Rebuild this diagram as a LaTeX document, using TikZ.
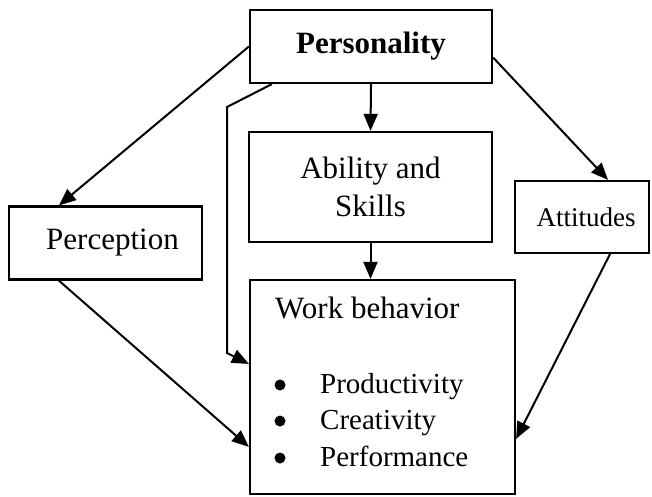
\documentclass[tikz,border=0pt]{standalone}
\usepackage{fontspec}
\setmainfont{Liberation Serif}
\usetikzlibrary{arrows.meta,calc}
\begin{document}
\begin{tikzpicture}[x=1pt,y=-1pt,
  box/.style={draw,line width=2.2pt,inner sep=0pt},
  conn/.style={line width=2pt,-{Triangle[length=17pt,width=14pt]}},
  big/.style={font=\fontsize{31}{38}\selectfont},
  mid/.style={font=\fontsize{27}{32}\selectfont},
  dot/.style={circle,fill,inner sep=0pt,minimum size=11pt},
  item/.style={font=\fontsize{29}{34}\selectfont,anchor=base west,inner sep=0pt}]
\useasboundingbox (0,0) rectangle (652,496);
\node[box,minimum width=242pt,minimum height=73pt,font=\fontsize{31}{36}\selectfont\bfseries] (pers) at (371,46.5) {Personality};
\node[box,minimum width=243pt,minimum height=110pt,big,align=center] (abil) at (370.5,187) {Ability and\\Skills};
\node[box,minimum width=193pt,minimum height=73pt,big] (perc) at (105.5,243) {\hspace{14pt}Perception};
\node[box,minimum width=134pt,minimum height=72pt,mid] (att) at (582,217) {\hspace{8pt}Attitudes};
\node[box,minimum width=265pt,minimum height=214pt] (work) at (382.5,387) {};
\node[big,anchor=base west,inner sep=0pt] (wb) at (275,318) {Work behavior};
\node[dot] (b1) at (280,385) {};
\node[item] (i1) at (320,393) {Productivity};
\node[dot] (b2) at (280,421) {};
\node[item] (i2) at (320,429) {Creativity};
\node[dot] (b3) at (280,458) {};
\node[item] (i3) at (320,466) {Performance};
\draw[conn] (pers.west) -- ($(perc.north west)+(51,0)$);
\draw[conn] ($(pers.east)+(0,11)$) -- ($(att.north)+(26,0)$);
\draw[conn] (pers.south) -- (abil.north);
\draw[conn] (abil.south) -- (abil.south |- work.north);
\coordinate (k1) at (227,107);
\coordinate (k2) at (227,353);
\draw[conn] ($(pers.south west)+(23,0)$) -- (k1) -- (k2) -- ($(work.north west)+(0,85)$);
\draw[conn] ($(perc.south west)+(51,0)$) -- ($(work.north west)+(0,168)$);
\draw[conn] ($(att.south)+(28,0)$) -- ($(work.north east)+(0,160)$);
\end{tikzpicture}
\end{document}
